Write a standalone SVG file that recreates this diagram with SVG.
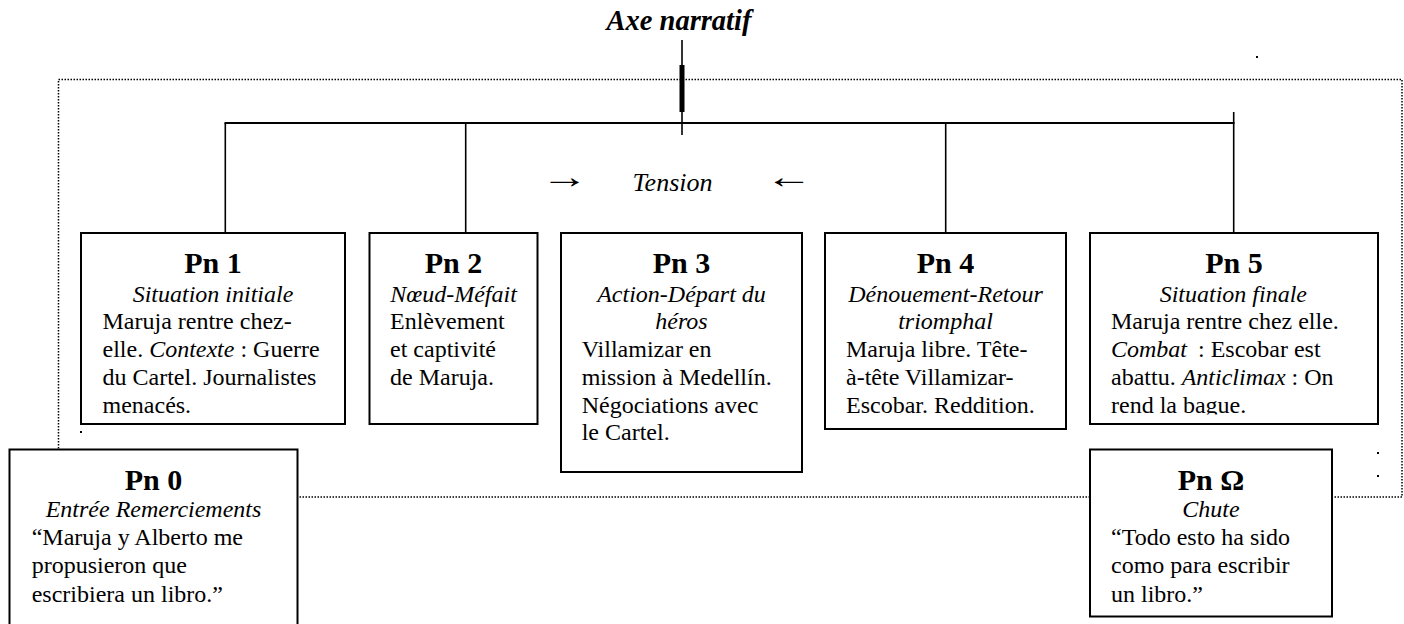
<svg xmlns="http://www.w3.org/2000/svg" width="1404" height="624" viewBox="0 0 1404 624">
<style>
  text { font-family: "Liberation Serif", "Times New Roman", serif; fill: #000; }
  .title { font-size: 30px; font-weight: bold; text-anchor: middle; }
  .sub { font-size: 24px; font-style: italic; text-anchor: middle; }
  .body { font-size: 24px; }
  .it { font-style: italic; }
  .box { fill: #fff; stroke: #000; stroke-width: 2; }
  .conn { stroke: #000; stroke-width: 1.6; fill: none; }
  .dotted { fill: none; stroke: #000; stroke-width: 1.5; stroke-dasharray: 1.5 1.5; }
  .arrow { font-size: 34px; text-anchor: middle; }
</style>
<defs>
  <clipPath id="clip5"><rect x="1090" y="233" width="288" height="181.5"/></clipPath>
</defs>

<rect class="dotted" x="58.5" y="79.5" width="1343.5" height="417.5"/>

<text x="679" y="30" font-size="28.5" font-weight="bold" font-style="italic" text-anchor="middle">Axe narratif</text>

<g id="connectors">
  <line class="conn" x1="682" y1="40" x2="682" y2="135"/>
  <rect x="679.5" y="65" width="5" height="47" fill="#000"/>
  <line x1="224.5" y1="123" x2="1234.5" y2="123" stroke="#000" stroke-width="2"/>
  <line class="conn" x1="225.3" y1="123" x2="225.3" y2="233"/>
  <line class="conn" x1="465.7" y1="123" x2="465.7" y2="233"/>
  <line class="conn" x1="945.7" y1="123" x2="945.7" y2="233"/>
  <line class="conn" x1="1233.7" y1="112" x2="1233.7" y2="233"/>
</g>

<g id="tension">
  <text class="arrow" transform="translate(564.5,188) scale(1.4,1)">→</text>
  <text x="672.5" y="190.7" font-size="26" font-style="italic" text-anchor="middle">Tension</text>
  <text class="arrow" transform="translate(789,188) scale(1.4,1)">←</text>
</g>

<g id="pn1">
  <rect class="box" x="81" y="233" width="264" height="191"/>
  <text class="title" x="213" y="273.3">Pn 1</text>
  <text class="sub" x="213" y="301.7">Situation initiale</text>
  <text class="body" x="102.5" y="329.3">Maruja rentre chez-</text>
  <text class="body" x="102.5" y="357.3">elle. <tspan class="it">Contexte</tspan> : Guerre</text>
  <text class="body" x="102.5" y="385">du Cartel. Journalistes</text>
  <text class="body" x="102.5" y="412.7">menacés.</text>
</g>

<g id="pn2">
  <rect class="box" x="369.5" y="233" width="168" height="191"/>
  <text class="title" x="453.5" y="273.3">Pn 2</text>
  <text class="sub" x="453.5" y="301.7">Nœud-Méfait</text>
  <text class="body" x="390" y="329.3">Enlèvement</text>
  <text class="body" x="390" y="357.3">et captivité</text>
  <text class="body" x="390" y="385">de Maruja.</text>
</g>

<g id="pn3">
  <rect class="box" x="561" y="233" width="241" height="239"/>
  <text class="title" x="681.5" y="273.3">Pn 3</text>
  <text class="sub" x="681.5" y="301.7">Action-Départ du</text>
  <text class="sub" x="681.5" y="329.3">héros</text>
  <text class="body" x="581.7" y="357.3">Villamizar en</text>
  <text class="body" x="581.7" y="385">mission à Medellín.</text>
  <text class="body" x="581.7" y="412.7">Négociations avec</text>
  <text class="body" x="581.7" y="440.3">le Cartel.</text>
</g>

<g id="pn4">
  <rect class="box" x="825" y="233" width="241" height="196"/>
  <text class="title" x="945.5" y="273.3">Pn 4</text>
  <text class="sub" x="945.5" y="301.7">Dénouement-Retour</text>
  <text class="sub" x="945.5" y="329.3">triomphal</text>
  <text class="body" x="846" y="357.3">Maruja libre. Tête-</text>
  <text class="body" x="846" y="385">à-tête Villamizar-</text>
  <text class="body" x="846" y="412.7">Escobar. Reddition.</text>
</g>

<g id="pn5">
  <rect class="box" x="1090" y="233" width="288" height="191"/>
  <g clip-path="url(#clip5)">
    <text class="title" x="1234" y="273.3">Pn 5</text>
    <text class="sub" x="1233.3" y="301.7">Situation finale</text>
    <text class="body" x="1111" y="329.3">Maruja rentre chez elle.</text>
    <text class="body" y="357.3"><tspan class="it" x="1111">Combat</tspan><tspan x="1198">: Escobar est</tspan></text>
    <text class="body" x="1111" y="385">abattu. <tspan class="it">Anticlimax</tspan> : On</text>
    <text class="body" x="1111" y="412.7">rend la bague.</text>
  </g>
</g>

<g id="pn0">
  <rect class="box" x="9.5" y="449.5" width="288" height="200"/>
  <text class="title" x="153.5" y="490">Pn 0</text>
  <text class="sub" x="153.5" y="516.7">Entrée Remerciements</text>
  <text class="body" x="31.7" y="545">“Maruja y Alberto me</text>
  <text class="body" x="31.7" y="573">propusieron que</text>
  <text class="body" x="31.7" y="601.5">escribiera un libro.”</text>
</g>

<g id="pnomega">
  <rect class="box" x="1090" y="449.5" width="242" height="167"/>
  <text class="title" x="1211" y="490">Pn Ω</text>
  <text class="sub" x="1211" y="516.7">Chute</text>
  <text class="body" x="1111" y="545">“Todo esto ha sido</text>
  <text class="body" x="1111" y="573">como para escribir</text>
  <text class="body" x="1111" y="601.5">un libro.”</text>
</g>

<g id="specks" fill="#000">
  <rect x="80" y="431" width="2" height="2"/>
  <rect x="1377" y="452" width="2" height="2"/>
  <rect x="1377" y="475" width="2" height="2"/>
  <rect x="1256" y="56" width="2" height="2"/>
</g>
</svg>
